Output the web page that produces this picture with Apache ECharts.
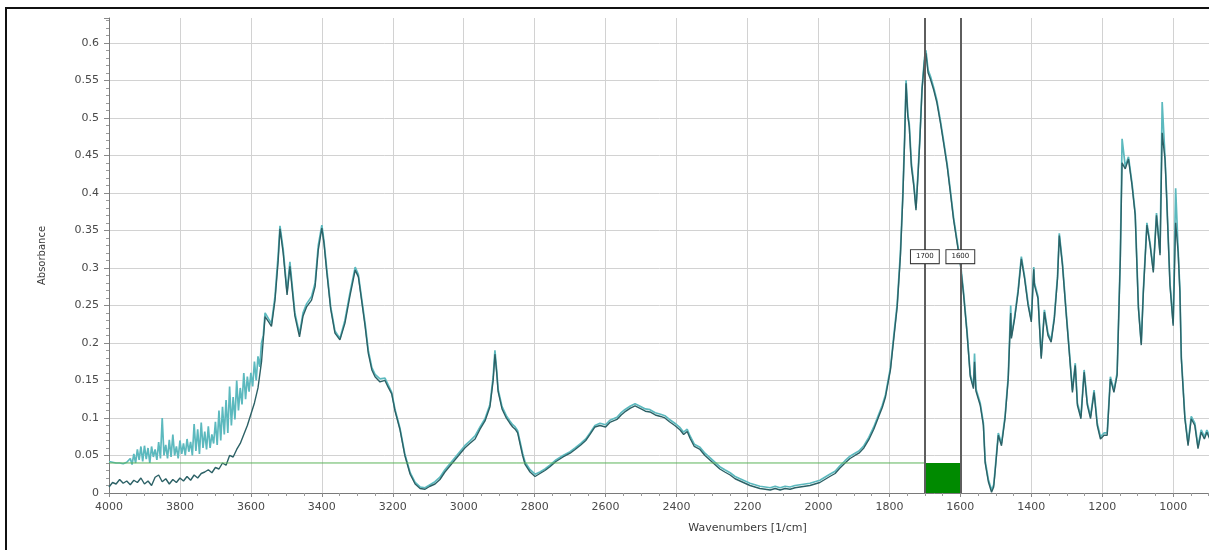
<!DOCTYPE html>
<html>
<head>
<meta charset="utf-8">
<style>
  html, body { margin: 0; padding: 0; background: #ffffff; }
  #chart { width: 1209px; height: 550px; }
</style>
<script src="https://cdn.jsdelivr.net/npm/echarts@6/dist/echarts.min.js"></script>
</head>
<body>
<div id="chart"></div>
<script>
// Absorbance spectra: [wavenumber (1/cm), absorbance]
const spectrumDark = [
  [4000,0.008],[3990,0.014],[3980,0.012],[3970,0.018],[3960,0.013],[3950,0.016],[3940,0.011],[3930,0.017],
  [3920,0.014],[3910,0.020],[3900,0.012],[3890,0.016],[3880,0.010],[3870,0.021],[3860,0.024],[3850,0.015],
  [3840,0.019],[3830,0.012],[3820,0.018],[3810,0.014],[3800,0.020],[3790,0.016],[3780,0.022],[3770,0.017],
  [3760,0.024],[3750,0.020],[3740,0.026],[3730,0.028],[3720,0.031],[3710,0.027],[3700,0.034],[3690,0.032],
  [3680,0.040],[3670,0.037],[3660,0.050],[3650,0.048],[3640,0.058],[3630,0.066],[3620,0.078],[3610,0.090],
  [3600,0.105],[3590,0.120],[3580,0.140],[3570,0.175],[3560,0.235],[3550,0.228],[3542,0.222],[3532,0.257],
  [3523,0.310],[3518,0.352],[3509,0.320],[3498,0.264],[3490,0.302],[3476,0.236],[3463,0.208],[3453,0.236],
  [3443,0.248],[3429,0.257],[3419,0.275],[3410,0.324],[3400,0.353],[3394,0.333],[3386,0.294],[3375,0.245],
  [3363,0.213],[3349,0.204],[3335,0.226],[3321,0.262],[3306,0.297],[3297,0.288],[3288,0.257],[3278,0.222],
  [3269,0.186],[3259,0.164],[3250,0.155],[3236,0.148],[3222,0.150],[3213,0.141],[3203,0.132],[3194,0.110],
  [3180,0.085],[3166,0.050],[3151,0.025],[3137,0.012],[3123,0.006],[3109,0.005],[3095,0.009],[3081,0.012],
  [3067,0.018],[3053,0.028],[3039,0.036],[3025,0.044],[3011,0.052],[2997,0.060],[2983,0.066],[2968,0.072],
  [2954,0.085],[2940,0.096],[2926,0.115],[2917,0.150],[2912,0.185],[2907,0.160],[2903,0.135],[2892,0.112],
  [2880,0.100],[2870,0.093],[2862,0.088],[2855,0.085],[2848,0.080],[2841,0.065],[2834,0.050],[2827,0.038],
  [2813,0.028],[2799,0.022],[2785,0.026],[2771,0.030],[2757,0.035],[2740,0.042],[2720,0.048],[2700,0.053],
  [2686,0.058],[2670,0.064],[2656,0.070],[2644,0.078],[2630,0.088],[2616,0.090],[2600,0.088],[2588,0.094],
  [2568,0.098],[2556,0.104],[2546,0.108],[2530,0.113],[2517,0.116],[2500,0.112],[2488,0.109],[2475,0.108],
  [2460,0.104],[2445,0.102],[2433,0.100],[2420,0.095],[2405,0.090],[2390,0.084],[2380,0.078],[2370,0.082],
  [2362,0.073],[2350,0.062],[2334,0.058],[2320,0.050],[2306,0.044],[2292,0.038],[2278,0.032],[2264,0.028],
  [2249,0.024],[2235,0.019],[2221,0.016],[2207,0.013],[2193,0.010],[2179,0.008],[2165,0.006],[2150,0.005],
  [2136,0.004],[2122,0.006],[2108,0.004],[2094,0.006],[2080,0.005],[2066,0.007],[2052,0.008],[2038,0.009],
  [2024,0.010],[2010,0.012],[1996,0.014],[1982,0.018],[1968,0.022],[1953,0.026],[1940,0.033],[1925,0.040],
  [1911,0.046],[1897,0.050],[1886,0.053],[1872,0.060],[1858,0.071],[1844,0.085],[1830,0.102],[1820,0.114],
  [1811,0.128],[1797,0.164],[1788,0.204],[1778,0.248],[1769,0.315],[1762,0.395],[1757,0.471],[1753,0.546],
  [1748,0.502],[1744,0.488],[1738,0.435],[1731,0.408],[1725,0.377],[1719,0.426],[1714,0.471],[1708,0.537],
  [1701,0.577],[1697,0.586],[1691,0.560],[1684,0.551],[1675,0.537],[1666,0.520],[1656,0.493],[1647,0.466],
  [1637,0.435],[1628,0.400],[1619,0.364],[1609,0.333],[1600,0.305],[1591,0.265],[1581,0.212],[1572,0.155],
  [1563,0.139],[1560,0.175],[1556,0.136],[1544,0.117],[1535,0.090],[1530,0.040],[1521,0.015],[1512,0.001],
  [1506,0.008],[1502,0.028],[1493,0.077],[1484,0.063],[1474,0.099],[1465,0.152],[1458,0.240],[1456,0.206],
  [1447,0.232],[1437,0.268],[1428,0.312],[1419,0.286],[1409,0.250],[1400,0.228],[1393,0.298],[1391,0.277],
  [1381,0.259],[1372,0.179],[1363,0.241],[1353,0.210],[1344,0.201],[1335,0.232],[1326,0.286],[1321,0.343],
  [1312,0.303],[1302,0.241],[1293,0.188],[1284,0.134],[1276,0.170],[1270,0.117],[1260,0.099],[1251,0.161],
  [1242,0.117],[1233,0.099],[1223,0.134],[1214,0.090],[1205,0.072],[1195,0.077],[1186,0.077],[1177,0.152],
  [1167,0.134],[1158,0.157],[1149,0.312],[1144,0.440],[1135,0.432],[1126,0.445],[1116,0.410],[1107,0.370],
  [1098,0.246],[1090,0.197],[1084,0.268],[1074,0.357],[1065,0.330],[1056,0.294],[1047,0.370],[1037,0.317],
  [1031,0.480],[1023,0.445],[1019,0.401],[1009,0.277],[1000,0.223],[993,0.360],[986,0.321],[981,0.268],
  [977,0.179],[967,0.099],[958,0.063],[949,0.099],[939,0.090],[930,0.059],[921,0.081],[912,0.072],
  [905,0.081],[895,0.070],[885,0.075]
];

const spectrumLight = [
  [4000,0.042],[3990,0.041],[3980,0.040],[3970,0.040],[3960,0.039],[3950,0.041],[3940,0.046],[3935,0.038],
  [3930,0.052],[3925,0.040],[3920,0.058],[3915,0.044],[3910,0.062],[3905,0.042],[3900,0.063],[3895,0.045],
  [3890,0.060],[3885,0.040],[3880,0.062],[3875,0.048],[3870,0.058],[3865,0.044],[3860,0.068],[3855,0.046],
  [3850,0.100],[3845,0.050],[3840,0.064],[3835,0.046],[3830,0.071],[3825,0.048],[3820,0.078],[3815,0.050],
  [3810,0.062],[3805,0.046],[3800,0.070],[3795,0.052],[3790,0.066],[3785,0.050],[3780,0.072],[3775,0.055],
  [3770,0.068],[3765,0.050],[3760,0.092],[3755,0.056],[3750,0.085],[3745,0.052],[3740,0.094],[3735,0.060],
  [3730,0.082],[3725,0.058],[3720,0.089],[3715,0.060],[3710,0.078],[3705,0.066],[3700,0.095],[3695,0.064],
  [3690,0.110],[3685,0.070],[3680,0.115],[3675,0.078],[3670,0.124],[3665,0.080],[3660,0.142],[3655,0.090],
  [3650,0.128],[3645,0.098],[3640,0.150],[3635,0.110],[3630,0.140],[3625,0.118],[3620,0.160],[3615,0.125],
  [3610,0.155],[3605,0.135],[3600,0.160],[3595,0.142],[3590,0.175],[3585,0.150],[3580,0.182],[3575,0.168],
  [3570,0.200],[3565,0.210],[3560,0.240],[3555,0.238],[3550,0.232],[3542,0.226],[3532,0.262],[3523,0.318],
  [3518,0.356],[3509,0.325],[3498,0.268],[3490,0.308],[3476,0.240],[3463,0.212],[3453,0.240],[3443,0.252],
  [3429,0.262],[3419,0.280],[3410,0.330],[3400,0.357],[3394,0.336],[3386,0.298],[3375,0.248],[3363,0.216],
  [3349,0.206],[3335,0.230],[3321,0.266],[3306,0.301],[3297,0.291],[3288,0.260],[3278,0.226],[3269,0.190],
  [3259,0.167],[3250,0.158],[3236,0.152],[3222,0.153],[3213,0.144],[3203,0.134],[3194,0.112],[3180,0.087],
  [3166,0.052],[3151,0.027],[3137,0.014],[3123,0.008],[3109,0.007],[3095,0.011],[3081,0.015],[3067,0.021],
  [3053,0.031],[3039,0.039],[3025,0.047],[3011,0.055],[2997,0.063],[2983,0.069],[2968,0.076],[2954,0.088],
  [2940,0.099],[2926,0.118],[2917,0.155],[2912,0.190],[2907,0.163],[2903,0.138],[2892,0.115],[2880,0.103],
  [2870,0.096],[2862,0.091],[2855,0.088],[2848,0.083],[2841,0.068],[2834,0.053],[2827,0.041],[2813,0.031],
  [2799,0.025],[2785,0.028],[2771,0.032],[2757,0.037],[2740,0.044],[2720,0.050],[2700,0.055],[2686,0.060],
  [2670,0.066],[2656,0.072],[2644,0.080],[2630,0.090],[2616,0.093],[2600,0.091],[2588,0.097],[2568,0.101],
  [2556,0.107],[2546,0.111],[2530,0.116],[2517,0.119],[2500,0.115],[2488,0.112],[2475,0.111],[2460,0.107],
  [2445,0.105],[2433,0.103],[2420,0.098],[2405,0.093],[2390,0.087],[2380,0.081],[2370,0.085],[2362,0.076],
  [2350,0.065],[2334,0.061],[2320,0.053],[2306,0.047],[2292,0.041],[2278,0.035],[2264,0.031],[2249,0.027],
  [2235,0.022],[2221,0.019],[2207,0.016],[2193,0.013],[2179,0.011],[2165,0.009],[2150,0.008],[2136,0.007],
  [2122,0.009],[2108,0.007],[2094,0.009],[2080,0.008],[2066,0.010],[2052,0.011],[2038,0.012],[2024,0.013],
  [2010,0.015],[1996,0.017],[1982,0.021],[1968,0.025],[1953,0.029],[1940,0.036],[1925,0.043],[1911,0.049],
  [1897,0.053],[1886,0.056],[1872,0.063],[1858,0.074],[1844,0.088],[1830,0.105],[1820,0.117],[1811,0.131],
  [1797,0.167],[1788,0.208],[1778,0.252],[1769,0.320],[1762,0.400],[1757,0.476],[1753,0.550],[1748,0.505],
  [1744,0.492],[1738,0.440],[1731,0.412],[1725,0.380],[1719,0.430],[1714,0.475],[1708,0.540],[1701,0.580],
  [1697,0.590],[1691,0.564],[1684,0.555],[1675,0.540],[1666,0.523],[1656,0.496],[1647,0.469],[1637,0.438],
  [1628,0.403],[1619,0.367],[1609,0.336],[1600,0.308],[1591,0.268],[1581,0.215],[1572,0.158],[1563,0.142],
  [1560,0.186],[1556,0.139],[1544,0.120],[1535,0.093],[1530,0.043],[1521,0.018],[1512,0.004],[1506,0.011],
  [1502,0.031],[1493,0.080],[1484,0.066],[1474,0.102],[1465,0.155],[1458,0.250],[1456,0.209],[1447,0.235],
  [1437,0.271],[1428,0.315],[1419,0.289],[1409,0.253],[1400,0.231],[1393,0.301],[1391,0.280],[1381,0.262],
  [1372,0.182],[1363,0.244],[1353,0.213],[1344,0.204],[1335,0.235],[1326,0.289],[1321,0.346],[1312,0.306],
  [1302,0.244],[1293,0.191],[1284,0.137],[1276,0.173],[1270,0.120],[1260,0.102],[1251,0.164],[1242,0.120],
  [1233,0.102],[1223,0.137],[1214,0.093],[1205,0.075],[1195,0.080],[1186,0.080],[1177,0.155],[1167,0.137],
  [1158,0.160],[1149,0.315],[1144,0.472],[1135,0.435],[1126,0.448],[1116,0.413],[1107,0.373],[1098,0.249],
  [1090,0.200],[1084,0.271],[1074,0.360],[1065,0.333],[1056,0.297],[1047,0.373],[1037,0.320],[1031,0.521],
  [1023,0.448],[1019,0.404],[1009,0.280],[1000,0.226],[993,0.406],[986,0.324],[981,0.271],[977,0.182],
  [967,0.102],[958,0.066],[949,0.102],[939,0.093],[930,0.062],[921,0.084],[912,0.075],[905,0.084],
  [895,0.073],[885,0.078]
];

// Baseline threshold line and the integration band between the two cursors
const baselineLevel = 0.04;
const baselineRange = [4000, 1700];
const cursorPositions = [1700, 1600];
const cursorLabelLevel = 0.315;

// Axis settings (the plot runs on past the right edge of the page)
const xRange = [400, 4000];
const xStep = 200;
const yRange = [0, 0.633];
const yStep = 0.05;

const labelFont = { fontFamily: 'DejaVu Sans', fontSize: 11, color: '#4a4a4a' };

const chart = echarts.init(document.getElementById('chart'), null, { renderer: 'canvas' });

chart.setOption({
  animation: false,
  backgroundColor: '#ffffff',
  grid: { left: 109, top: 18, width: 1277, height: 475, containLabel: false, outerBoundsMode: 'none' },
  xAxis: {
    type: 'value',
    inverse: true,
    min: xRange[0],
    max: xRange[1],
    interval: xStep,
    name: 'Wavenumbers [1/cm]',
    nameLocation: 'middle',
    nameGap: 30,
    nameTextStyle: { fontFamily: 'DejaVu Sans', fontSize: 11, color: '#3a3a3a' },
    axisLine: { show: true, onZero: false, lineStyle: { color: '#7a7a7a', width: 1 } },
    axisTick: { show: true, inside: false, length: 4, lineStyle: { color: '#8a8a8a' } },
    minorTick: { show: true, splitNumber: 4, length: 3, lineStyle: { color: '#9a9a9a' } },
    axisLabel: Object.assign({ margin: 9, hideOverlap: false, formatter: function (v) { return String(v); } }, labelFont),
    splitLine: { show: true, lineStyle: { color: '#d2d2d2', width: 1 } }
  },
  yAxis: {
    type: 'value',
    min: yRange[0],
    max: yRange[1],
    interval: yStep,
    name: 'Absorbance',
    nameLocation: 'middle',
    nameGap: 62,
    nameTextStyle: { fontFamily: 'DejaVu Sans', fontSize: 10, color: '#3a3a3a' },
    axisLine: { show: true, lineStyle: { color: '#7a7a7a', width: 1 } },
    axisTick: { show: true, inside: false, length: 5, lineStyle: { color: '#8a8a8a' } },
    minorTick: { show: true, splitNumber: 5, length: 3, lineStyle: { color: '#9a9a9a' } },
    axisLabel: Object.assign({ margin: 10, showMaxLabel: false }, labelFont),
    splitLine: { show: true, showMaxLine: false, lineStyle: { color: '#d2d2d2', width: 1 } }
  },
  graphic: [{
    type: 'rect',
    z: 100,
    silent: true,
    shape: { x: 6, y: 8, width: 1400, height: 700 },
    style: { fill: 'none', stroke: '#111111', lineWidth: 2 }
  }],
  series: [
    {
      name: 'Spectrum B',
      type: 'line',
      data: spectrumLight,
      showSymbol: false,
      clip: true,
      lineStyle: { color: '#5cb9be', width: 1.7 },
      z: 2
    },
    {
      name: 'Spectrum A',
      type: 'line',
      data: spectrumDark,
      showSymbol: false,
      clip: true,
      lineStyle: { color: '#2c6166', width: 1.4 },
      z: 3
    },
    {
      name: 'Baseline',
      type: 'line',
      data: baselineRange.map(function (w) { return [w, baselineLevel]; }),
      showSymbol: false,
      lineStyle: { color: '#5cb35a', width: 1 },
      z: 4,
      markArea: {
        silent: true,
        itemStyle: { color: '#008a00', opacity: 1 },
        data: [[
          { coord: [cursorPositions[0], 0] },
          { coord: [cursorPositions[1], baselineLevel] }
        ]]
      },
      markLine: {
        silent: true,
        symbol: ['none', 'none'],
        label: { show: false },
        lineStyle: { color: '#5e5e5e', width: 2, type: 'solid' },
        data: cursorPositions.map(function (w) { return { xAxis: w }; })
      },
      markPoint: {
        silent: true,
        symbol: 'rect',
        symbolSize: 0,
        label: {
          show: true,
          position: 'inside',
          fontFamily: 'DejaVu Sans',
          fontSize: 7,
          color: '#222222',
          backgroundColor: '#ffffff',
          borderColor: '#333333',
          borderWidth: 1,
          padding: [3, 5],
          formatter: function (p) { return String(p.value); }
        },
        data: cursorPositions.map(function (w) {
          return { coord: [w, cursorLabelLevel], value: w };
        })
      }
    }
  ]
});
</script>
</body>
</html>
